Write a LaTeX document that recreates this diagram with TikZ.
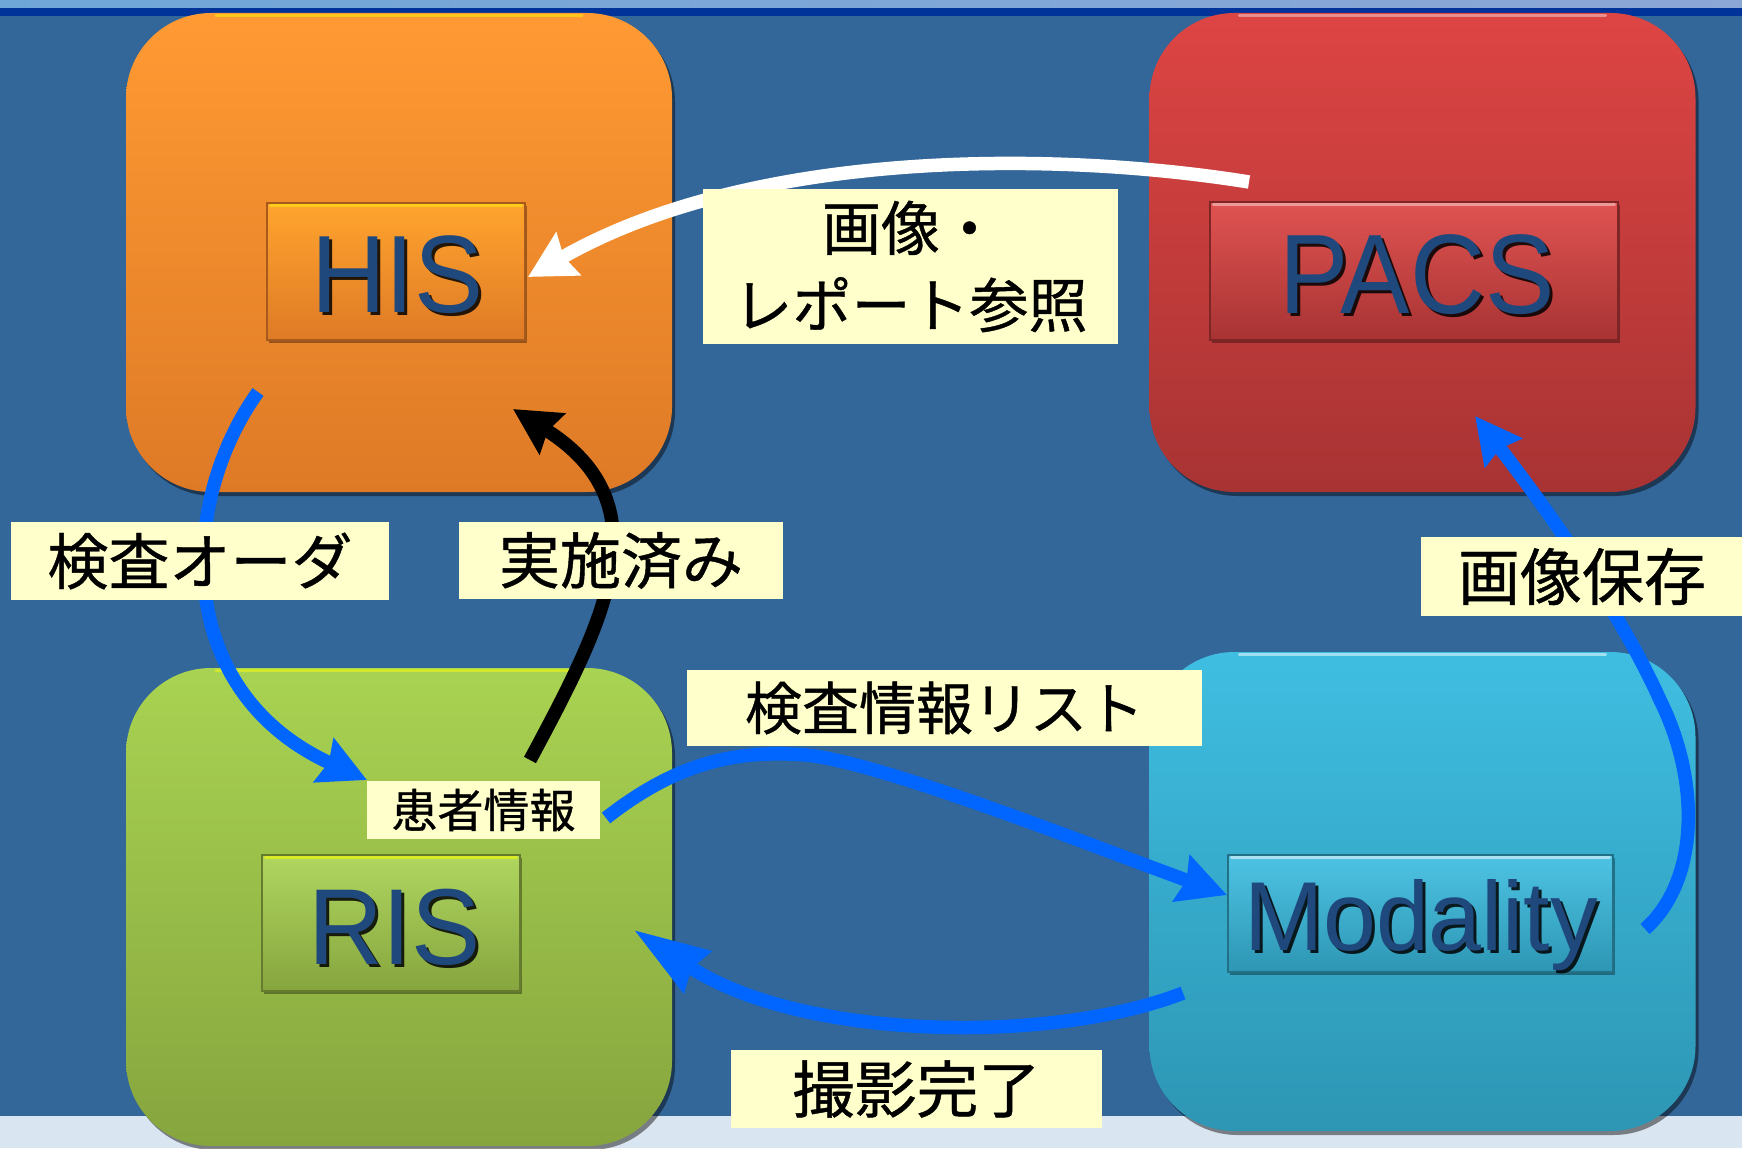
\documentclass[tikz,border=0pt]{standalone}
\usepackage{fontspec}
\newfontfamily\jpfont[FakeBold=0.7]{Noto Sans CJK JP}
\newfontfamily\arialfont{Liberation Sans}
\usetikzlibrary{arrows.meta,shadows,calc}
\definecolor{bgblue}{HTML}{336699}
\definecolor{topline}{HTML}{003399}
\definecolor{stripL}{HTML}{6FA6D8}
\definecolor{stripR}{HTML}{8CA6D6}
\definecolor{bandlight}{HTML}{D9E5F0}
\definecolor{labelyellow}{HTML}{FFFFCC}
\definecolor{txtblue}{HTML}{1F497D}
\definecolor{arrowblue}{HTML}{0066FF}
\definecolor{orgTop}{HTML}{FF9A33}
\definecolor{orgBot}{HTML}{DE7A26}
\definecolor{redTop}{HTML}{DD4543}
\definecolor{redBot}{HTML}{A83333}
\definecolor{grnTop}{HTML}{A9D352}
\definecolor{grnBot}{HTML}{86A53E}
\definecolor{cyaTop}{HTML}{3FBEE1}
\definecolor{cyaBot}{HTML}{2D96B4}
\tikzset{
  bigbox/.style={rounded corners=85pt, minimum width=546pt, inner sep=0pt,
    drop shadow={shadow xshift=3pt,shadow yshift=-4pt,opacity=0.45,fill=black}},
  innerbox/.style={inner sep=0pt, line width=1.2pt,
    drop shadow={shadow xshift=2pt,shadow yshift=-3pt,opacity=0.35,fill=black}},
  bevel/.style={line width=3pt, line cap=round},
  systxt/.style={text=txtblue, inner sep=0pt, anchor=base},
  sysshadow/.style={text=black, opacity=0.85, inner sep=0pt, anchor=base},
  lbl/.style={fill=labelyellow, inner sep=0pt, text=black, align=center},
  flow/.style={line width=13.5pt},
}
\begin{document}
\begin{tikzpicture}[x=1pt,y=-1pt]
\useasboundingbox (0,0) rectangle (1742,1148);
% background
\fill[bgblue] (0,0) rectangle (1742,1148);
\fill[left color=stripL, right color=stripR] (0,0) rectangle (1742,8);
\fill[topline] (0,8) rectangle (1742,16);
\fill[bandlight] (0,1116) rectangle (1742,1148);

% big boxes
\node[bigbox, minimum height=479pt, top color=orgTop, bottom color=orgBot] (hisbg) at (399,252.5) {};
\node[bigbox, minimum height=479pt, top color=redTop, bottom color=redBot] (pacsbg) at (1422.5,252.5) {};
\node[bigbox, minimum height=478pt, top color=grnTop, bottom color=grnBot] (risbg) at (399,907) {};
\node[bigbox, minimum height=479pt, top color=cyaTop, bottom color=cyaBot] (modbg) at (1422.5,891.5) {};
% top highlights of big boxes
\draw[bevel, orgTop!55!yellow] ($(hisbg.north west)+(90,3)$) -- ($(hisbg.north east)+(-90,3)$);
\draw[bevel, redTop!60!white] ($(pacsbg.north west)+(90,3)$) -- ($(pacsbg.north east)+(-90,3)$);
\draw[bevel, grnTop!55!yellow] ($(risbg.north west)+(90,3)$) -- ($(risbg.north east)+(-90,3)$);
\draw[bevel, cyaTop!50!white] ($(modbg.north west)+(90,3)$) -- ($(modbg.north east)+(-90,3)$);

% inner boxes
\node[innerbox, minimum width=258pt, minimum height=137pt, draw=orgBot!75!black, top color=orgTop!90!yellow, bottom color=orgBot] (hisbox) at (396,271.5) {};
\node[innerbox, minimum width=408pt, minimum height=138pt, draw=redBot!75!black, top color=redTop!92!white, bottom color=redBot] (pacsbox) at (1414,271) {};
\node[innerbox, minimum width=258pt, minimum height=136pt, draw=grnBot!75!black, top color=grnTop!92!white, bottom color=grnBot] (risbox) at (391,923) {};
\node[innerbox, minimum width=385pt, minimum height=117pt, draw=cyaBot!75!black, top color=cyaTop!92!white, bottom color=cyaBot] (modbox) at (1420.5,913.5) {};
\draw[bevel, orgTop!50!yellow] ($(hisbox.north west)+(4,3)$) -- ($(hisbox.north east)+(-4,3)$);
\draw[bevel, redTop!55!white] ($(pacsbox.north west)+(4,3)$) -- ($(pacsbox.north east)+(-4,3)$);
\draw[bevel, grnTop!45!yellow] ($(risbox.north west)+(4,3)$) -- ($(risbox.north east)+(-4,3)$);
\draw[bevel, cyaTop!45!white] ($(modbox.north west)+(4,3)$) -- ($(modbox.north east)+(-4,3)$);

% system names
\node[sysshadow, font=\arialfont\fontsize{110}{110}\selectfont, xscale=0.94] at (400.5,315) {HIS};
\node[systxt, font=\arialfont\fontsize{110}{110}\selectfont, xscale=0.94] (his) at (397.5,312) {HIS};
\node[sysshadow, font=\arialfont\fontsize{113}{113}\selectfont, xscale=0.92] at (1420,316) {PACS};
\node[systxt, font=\arialfont\fontsize{113}{113}\selectfont, xscale=0.92] (pacs) at (1417,313) {PACS};
\node[sysshadow, font=\arialfont\fontsize{108}{108}\selectfont, xscale=0.96] at (397.5,967) {RIS};
\node[systxt, font=\arialfont\fontsize{108}{108}\selectfont, xscale=0.96] (ris) at (394.5,964) {RIS};
\node[sysshadow, font=\arialfont\fontsize{98}{98}\selectfont, xscale=0.97] at (1424,953) {Modality};
\node[systxt, font=\arialfont\fontsize{98}{98}\selectfont, xscale=0.97] (mod) at (1421,950) {Modality};

% connector end points
\coordinate (pacsOut) at (1249,182);
\coordinate (hisIn) at (528,277);
\coordinate (hisOut) at (258,392);
\coordinate (risIn) at (367,780);
\coordinate (risOut) at (530,760);
\coordinate (hisIn2) at (513,409);
\coordinate (ptOut) at (606,818);
\coordinate (modIn) at (1227,895);
\coordinate (modOut) at (1183,993);
\coordinate (risIn2) at (634,930);
\coordinate (modOut2) at (1645,929);
\coordinate (pacsIn) at (1475,416);

% arrows
\draw[flow, white, -{Stealth[length=46pt,width=48pt,inset=5pt]}]
  (pacsOut) .. controls (1050,150) and (750,150) .. (hisIn);
\draw[flow, arrowblue, -{Stealth[length=47pt,width=47pt,inset=5pt]}]
  (hisOut) .. controls (180,500) and (170,690) .. (risIn);
\draw[flow, black, -{Stealth[length=46pt,width=47pt,inset=5pt]}]
  (risOut) .. controls (605,620) and (665,505) .. (hisIn2);
\draw[flow, arrowblue, -{Stealth[length=48pt,width=48pt,inset=5pt]}]
  (ptOut) .. controls (680,760) and (740,750) .. (806,755)
  .. controls (880,762) and (1090,845) .. (modIn);
\draw[flow, arrowblue, -{Stealth[length=75pt,width=48pt,inset=6pt]}]
  (modOut) .. controls (1050,1045) and (800,1040) .. (risIn2);
\draw[flow, arrowblue, -{Stealth[length=46pt,width=46pt,inset=5pt]}]
  (modOut2) .. controls (1700,880) and (1700,780) .. (1660,700)
  .. controls (1620,610) and (1540,500) .. (pacsIn);

% labels
\node[lbl, minimum width=415pt, minimum height=155pt, font=\jpfont\fontsize{59}{77}\selectfont] (lref) at (910.5,266.5) {画像・\\レポート参照};
\node[lbl, minimum width=378pt, minimum height=78pt, font=\jpfont\fontsize{61}{61}\selectfont] (lorder) at (200,561) {検査オーダ};
\node[lbl, minimum width=324pt, minimum height=77pt, font=\jpfont\fontsize{61}{61}\selectfont] (ldone) at (621,560.5) {実施済み};
\node[lbl, minimum width=323pt, minimum height=79pt, font=\jpfont\fontsize{62}{62}\selectfont] (lsave) at (1582,576.5) {画像保存};
\node[lbl, minimum width=515pt, minimum height=76pt, font=\jpfont\fontsize{57}{57}\selectfont] (llist) at (944.5,708) {検査情報リスト};
\node[lbl, minimum width=233pt, minimum height=58pt, font=\jpfont\fontsize{46}{46}\selectfont] (lpat) at (483.5,810) {患者情報};
\node[lbl, minimum width=371pt, minimum height=78pt, font=\jpfont\fontsize{62}{62}\selectfont] (lshot) at (916.5,1089) {撮影完了};
\end{tikzpicture}
\end{document}
